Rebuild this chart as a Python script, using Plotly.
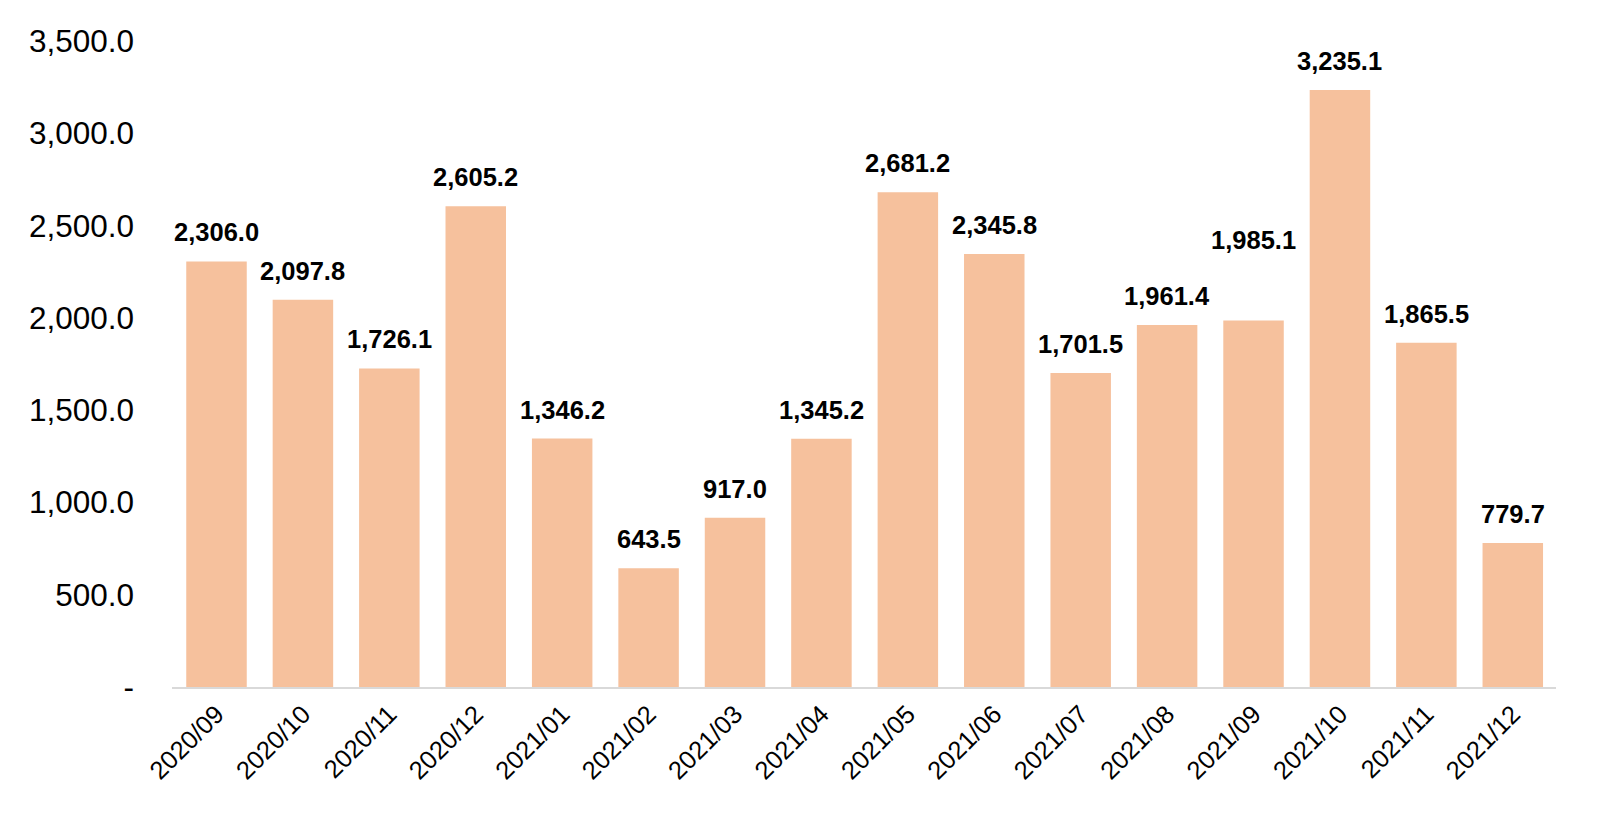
import plotly.graph_objects as go

months = ["2020/09", "2020/10", "2020/11", "2020/12", "2021/01", "2021/02", "2021/03", "2021/04",
          "2021/05", "2021/06", "2021/07", "2021/08", "2021/09", "2021/10", "2021/11", "2021/12"]
values = [2306.0, 2097.8, 1726.1, 2605.2, 1346.2, 643.5, 917.0, 1345.2,
          2681.2, 2345.8, 1701.5, 1961.4, 1985.1, 3235.1, 1865.5, 779.7]
label_extra = [0, 0, 0, 0, 0, 0, 0, 0, 0, 0, 0, 0, 1, 0, 0, 0]  # 2021/09 label sits higher

y_tickvals = [0, 500, 1000, 1500, 2000, 2500, 3000, 3500]
y_ticktext = ["-", "500.0", "1,000.0", "1,500.0", "2,000.0", "2,500.0", "3,000.0", "3,500.0"]

FONT = "Arial, Liberation Sans, sans-serif"
BAR = "#F6C19D"

fig = go.Figure(go.Bar(x=months, y=values, marker=dict(color=BAR, line=dict(width=0)),
                       hoverinfo="x+y"))

for m, v, e in zip(months, values, label_extra):
    fig.add_annotation(x=m, y=v, text=f"{v:,.1f}", showarrow=False, yanchor="bottom",
                       yshift=13 + 52 * e,
                       font=dict(family=FONT, size=25.5, color="#000000", weight="bold"))

fig.update_layout(
    width=1600, height=836,
    margin=dict(l=164, r=52, t=33, b=157),
    paper_bgcolor="white", plot_bgcolor="white",
    bargap=0.3, showlegend=False,
    font=dict(family=FONT, color="#000000"),
)
fig.update_xaxes(showline=True, linecolor="#D9D9D9", linewidth=2, showgrid=False, ticks="",
                 tickangle=-45, tickfont=dict(family=FONT, size=25.5, color="#000000"))
fig.update_yaxes(range=[0, 3500], tickvals=y_tickvals, ticktext=y_ticktext, showgrid=False,
                 zeroline=False, showline=False, ticks="", ticklabelstandoff=37,
                 tickfont=dict(family=FONT, size=31.5, color="#000000"))

fig.write_html("out.html")
